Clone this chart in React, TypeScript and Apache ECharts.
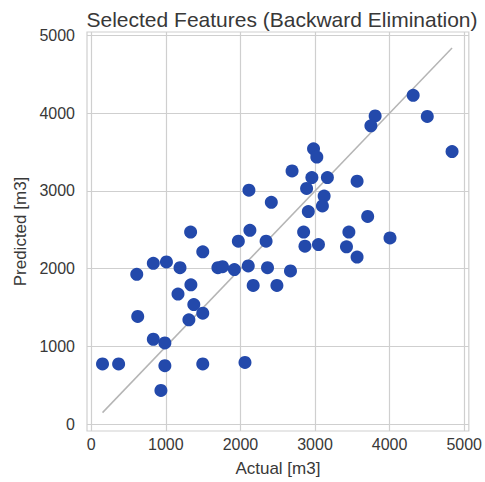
import React, { useEffect, useRef } from "react";
import * as echarts from "echarts";

const titleText = "Selected Features (Backward Elimination)";
const xAxisName = "Actual [m3]";
const yAxisName = "Predicted [m3]";
const xTicks = [0, 1000, 2000, 3000, 4000, 5000];
const yTicks = [0, 1000, 2000, 3000, 4000, 5000];

const actual = [
  1972, 2344, 1495, 832, 1008, 1190, 610, 1698, 1760, 1919, 2105, 2363, 2171, 2489,
  1336, 1163, 1375, 1495, 1309, 623, 832, 987, 151, 367, 987, 1495, 2061, 934,
  4316, 4505, 4837, 3806, 3749, 2980, 3024, 2692, 2958, 3166, 3564, 2887, 2114, 2414,
  3122, 3099, 2910, 3706, 2127, 2847, 3454, 2865, 3046, 3422, 3564, 4005, 2671, 1332,
];
const predicted = [
  2354, 2354, 2217, 2069, 2087, 2013, 1929, 2013, 2027, 1989, 2036, 2013, 1785, 1785,
  1794, 1674, 1539, 1429, 1343, 1387, 1094, 1047, 776, 776, 754, 776, 796, 436,
  4228, 3957, 3506, 3964, 3837, 3541, 3435, 3257, 3172, 3172, 3125, 3032, 3010, 2854,
  2934, 2807, 2735, 2672, 2494, 2472, 2472, 2290, 2310, 2281, 2150, 2396, 1972, 2472,
];

export default function App() {
  const ref = useRef<HTMLDivElement>(null);
  useEffect(() => {
    document.body.style.margin = "0";
    if (!ref.current) return;
    const chart = echarts.init(ref.current, null, { renderer: "svg" });
    const points = actual.map((a, i) => [a, predicted[i]]);
    const lo = Math.min(...actual);
    const hi = Math.max(...actual);
    const font = "Liberation Sans, Arial, sans-serif";
    const textColor = "#383838";
    const gridColor = "#cfcfcf";
    const fmt = (v: number) => String(v);
    chart.setOption({
      animation: false,
      backgroundColor: "#ffffff",
      title: {
        text: titleText,
        left: 277,
        top: 4,
        textAlign: "center",
        textStyle: { fontFamily: font, fontSize: 21, fontWeight: "normal", color: textColor },
      },
      grid: {
        left: 87,
        top: 32,
        width: 386,
        height: 403,
        show: true,
        borderColor: gridColor,
        borderWidth: 1.2,
        backgroundColor: "#ffffff",
      },
      xAxis: {
        type: "value",
        min: -57,
        max: 5062,
        name: xAxisName,
        nameLocation: "middle",
        nameGap: 29,
        nameTextStyle: { fontFamily: font, fontSize: 17, color: textColor },
        axisLine: { show: false },
        axisTick: { show: false, customValues: xTicks },
        axisLabel: {
          customValues: xTicks,
          formatter: fmt,
          margin: 5,
          fontFamily: font,
          fontSize: 16,
          color: textColor,
        },
        splitLine: { show: true, lineStyle: { color: gridColor, width: 1.2 } },
      },
      yAxis: {
        type: "value",
        min: -85,
        max: 5042,
        name: yAxisName,
        nameLocation: "middle",
        nameGap: 55,
        nameTextStyle: { fontFamily: font, fontSize: 17, color: textColor },
        axisLine: { show: false },
        axisTick: { show: false, customValues: yTicks },
        axisLabel: {
          customValues: yTicks,
          formatter: fmt,
          margin: 12,
          fontFamily: font,
          fontSize: 16,
          color: textColor,
        },
        splitLine: { show: true, lineStyle: { color: gridColor, width: 1.2 } },
      },
      series: [
        {
          type: "line",
          data: [
            [lo, lo],
            [hi, hi],
          ],
          showSymbol: false,
          symbol: "none",
          lineStyle: { color: "#b5b5b5", width: 1.5 },
          z: 1,
        },
        {
          type: "scatter",
          data: points,
          symbolSize: 13,
          itemStyle: { color: "#2349ab", opacity: 1 },
          z: 2,
        },
      ],
    });
    return () => chart.dispose();
  }, []);
  return <div ref={ref} style={{ width: 485, height: 482 }} />;
}
